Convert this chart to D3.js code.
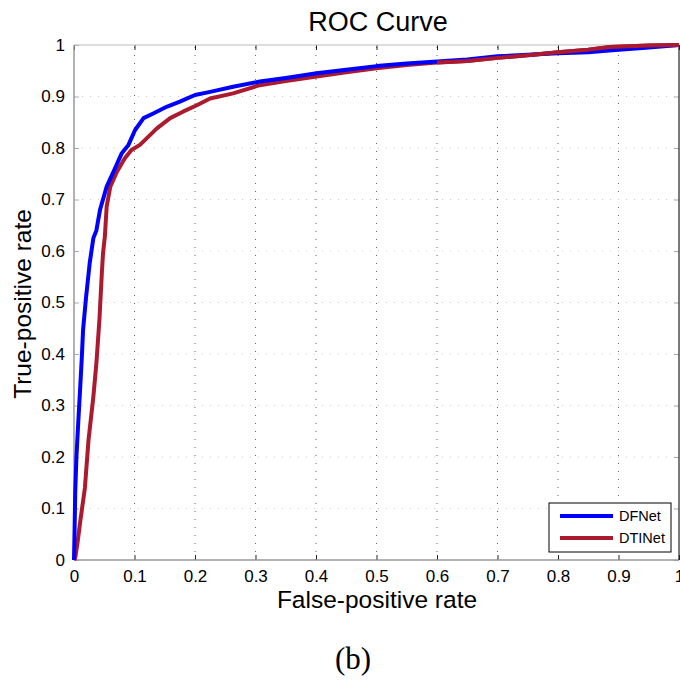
<!DOCTYPE html>
<html><head><meta charset="utf-8">
<script src="https://cdn.jsdelivr.net/npm/d3@7"></script>
<style>body{margin:0;background:#fff}svg{display:block}</style>
</head><body>
<script>
const title = "ROC Curve";
const xLabel = "False-positive rate";
const yLabel = "True-positive rate";
const caption = "(b)";
const xTicks = [0,0.1,0.2,0.3,0.4,0.5,0.6,0.7,0.8,0.9,1];
const yTicks = [0,0.1,0.2,0.3,0.4,0.5,0.6,0.7,0.8,0.9,1];
const seriesNames = ["DFNet","DTINet"];
const dfnetFPR = [0,0.001,0.002,0.004,0.007,0.010,0.013,0.015,0.020,0.026,0.032,0.037,0.043,0.054,0.068,0.079,0.090,0.101,0.115,0.131,0.153,0.175,0.200,0.225,0.263,0.307,0.35,0.401,0.45,0.5,0.55,0.6,0.65,0.7,0.75,0.8,0.85,0.89,0.95,1];
const dfnetTPR = [0,0.06,0.13,0.20,0.266,0.33,0.395,0.447,0.511,0.577,0.625,0.640,0.680,0.725,0.761,0.790,0.806,0.835,0.858,0.867,0.880,0.890,0.903,0.909,0.919,0.929,0.936,0.945,0.952,0.959,0.964,0.968,0.972,0.978,0.981,0.984,0.986,0.990,0.995,1];
const dtinetFPR = [0,0.002,0.006,0.010,0.018,0.024,0.032,0.037,0.042,0.046,0.048,0.051,0.054,0.060,0.071,0.084,0.095,0.109,0.123,0.137,0.159,0.181,0.203,0.225,0.263,0.307,0.35,0.401,0.45,0.5,0.55,0.6,0.65,0.7,0.75,0.8,0.85,0.886,0.95,1];
const dtinetTPR = [0,0.004,0.035,0.072,0.14,0.233,0.317,0.382,0.466,0.557,0.596,0.628,0.686,0.725,0.754,0.780,0.796,0.806,0.822,0.838,0.858,0.871,0.883,0.896,0.906,0.922,0.930,0.939,0.947,0.955,0.961,0.966,0.969,0.975,0.980,0.986,0.991,0.996,0.999,1];
const colors = ["#0000ff","#ac1a2f"];

const W=680,H=681;
const L=74,R=679,T=45,B=560;
const svg=d3.select("body").append("svg").attr("width",W).attr("height",H);
const x=d3.scaleLinear().domain([0,1]).range([L,R]);
const y=d3.scaleLinear().domain([0,1]).range([B,T]);
const font="Liberation Sans, Arial, sans-serif";

// grid
const g=svg.append("g");
g.selectAll(".vg").data(xTicks.slice(1,-1)).enter().append("line")
 .attr("x1",d=>x(d)).attr("x2",d=>x(d)).attr("y1",B).attr("y2",T)
 .attr("stroke","#666").attr("stroke-width",1).attr("stroke-dasharray","1,7");
g.selectAll(".hg").data(yTicks.slice(1,-1)).enter().append("line")
 .attr("y1",d=>y(d)).attr("y2",d=>y(d)).attr("x1",L).attr("x2",R)
 .attr("stroke","#ccc").attr("stroke-width",1).attr("stroke-dasharray","1,7");

// axes via d3
const xAxisB=d3.axisBottom(x).tickValues(xTicks).tickSize(-5).tickPadding(10).tickFormat(d3.format("~g"));
const xAxisT=d3.axisTop(x).tickValues(xTicks).tickSize(-5).tickFormat("");
const yAxisL=d3.axisLeft(y).tickValues(yTicks).tickSize(-5).tickPadding(9).tickFormat(d3.format("~g"));
const yAxisR=d3.axisRight(y).tickValues(yTicks).tickSize(-5).tickFormat("");
function style(sel,col){sel.select(".domain").remove();sel.selectAll("line").attr("stroke",col);sel.selectAll("text").attr("font-family",font).attr("font-size",17).attr("fill","#000");}
svg.append("g").attr("transform",`translate(0,${B})`).call(xAxisB).call(s=>style(s,"#222"));
svg.append("g").attr("transform",`translate(0,${T})`).call(xAxisT).call(s=>style(s,"#222"));
svg.append("g").attr("transform",`translate(${L},0)`).call(yAxisL).call(s=>style(s,"#aaa"));
svg.append("g").attr("transform",`translate(${R},0)`).call(yAxisR).call(s=>style(s,"#aaa"));

// spines
svg.append("line").attr("x1",L).attr("x2",R).attr("y1",T).attr("y2",T).attr("stroke","#bbb").attr("stroke-width",1);
svg.append("line").attr("x1",L).attr("x2",R).attr("y1",B).attr("y2",B).attr("stroke","#999").attr("stroke-width",1.5);
svg.append("line").attr("x1",L).attr("x2",L).attr("y1",T).attr("y2",B).attr("stroke","#999").attr("stroke-width",1.5);
svg.append("line").attr("x1",R).attr("x2",R).attr("y1",T).attr("y2",B).attr("stroke","#222").attr("stroke-width",1.2);

// curves
const line=d3.line().x(d=>x(d[0])).y(d=>y(d[1]));
const series=[d3.zip(dfnetFPR,dfnetTPR),d3.zip(dtinetFPR,dtinetTPR)];
[1,0].forEach(i=>{
  svg.append("path").datum(series[i]).attr("d",line).attr("fill","none")
   .attr("stroke",colors[i]).attr("stroke-width",4).attr("stroke-linejoin","round");
});
// red lies on top in the upper right
svg.append("path").datum(series[1].filter(d=>d[0]>=0.6)).attr("d",line).attr("fill","none")
   .attr("stroke",colors[1]).attr("stroke-width",4).attr("stroke-linejoin","round");

// legend
const lg=svg.append("g");
lg.append("rect").attr("x",549).attr("y",503).attr("width",122).attr("height",49)
 .attr("fill","#fff").attr("stroke","#000").attr("stroke-width",1);
seriesNames.forEach((n,i)=>{
  const yy=516+i*22;
  lg.append("line").attr("x1",560).attr("x2",613).attr("y1",yy).attr("y2",yy).attr("stroke",colors[i]).attr("stroke-width",4);
  lg.append("text").attr("x",619).attr("y",yy+4.5).text(n).attr("font-family",font).attr("font-size",14.5);
});

// titles
svg.append("text").attr("x",378).attr("y",31).attr("text-anchor","middle").attr("font-family",font).attr("font-size",27).text(title);
svg.append("text").attr("x",377).attr("y",608).attr("text-anchor","middle").attr("font-family",font).attr("font-size",24.5).text(xLabel);
svg.append("text").attr("transform","translate(31,304) rotate(-90)").attr("text-anchor","middle").attr("font-family",font).attr("font-size",24.5).text(yLabel);
svg.append("text").attr("x",353).attr("y",669).attr("text-anchor","middle").attr("font-family","Liberation Serif, Times New Roman, serif").attr("font-size",31).text(caption);
</script>
</body></html>
